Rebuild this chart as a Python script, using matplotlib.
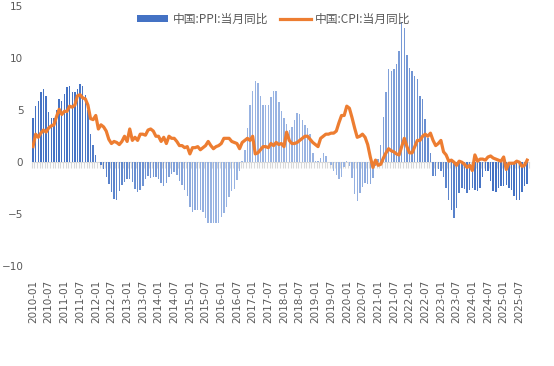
import matplotlib.pyplot as plt
import matplotlib.colors as mcolors
import numpy as np
import pandas as pd

plt.rcParams['font.family'] = ['Noto Sans CJK SC', 'DejaVu Sans']

# 中国 PPI / CPI 当月同比 (%), 2010-01 ~ 2025-10
ppi = [4.3, 5.4, 5.9, 6.8, 7.1, 6.4, 4.8, 4.3, 4.3, 5.0, 6.1, 5.9,
       6.6, 7.2, 7.3, 6.8, 6.8, 7.1, 7.5, 7.3, 6.5, 5.0, 2.7, 1.7,
       0.7, 0.0, -0.3, -0.7, -1.4, -2.1, -2.9, -3.5, -3.6, -2.8, -2.2, -1.9,
       -1.6, -1.6, -1.9, -2.6, -2.9, -2.7, -2.3, -1.6, -1.3, -1.5, -1.4, -1.4,
       -1.6, -2.0, -2.3, -2.0, -1.4, -1.1, -0.9, -1.2, -1.8, -2.2, -2.7, -3.3,
       -4.3, -4.8, -4.6, -4.6, -4.6, -4.8, -5.4, -5.9, -5.9, -5.9, -5.9, -5.9,
       -5.3, -4.9, -4.3, -3.4, -2.8, -2.6, -1.7, -0.8, 0.1, 1.2, 3.3, 5.5,
       6.9, 7.8, 7.6, 6.4, 5.5, 5.5, 5.5, 6.3, 6.9, 6.9, 5.8, 4.9,
       4.3, 3.7, 3.1, 3.4, 4.1, 4.7, 4.6, 4.1, 3.6, 3.3, 2.7, 0.9,
       0.1, 0.1, 0.4, 0.9, 0.6, 0.0, -0.3, -0.8, -1.2, -1.6, -1.4, -0.5,
       0.1, -0.4, -1.5, -3.1, -3.7, -3.0, -2.4, -2.0, -2.1, -2.1, -1.5, -0.4,
       0.3, 1.7, 4.4, 6.8, 9.0, 8.8, 9.0, 9.5, 10.7, 13.5, 12.9, 10.3,
       9.1, 8.8, 8.3, 8.0, 6.4, 6.1, 4.2, 2.3, 0.9, -1.3, -1.3, -0.7,
       -0.8, -1.4, -2.5, -3.6, -4.6, -5.4, -4.4, -3.0, -2.5, -2.6, -3.0, -2.7,
       -2.5, -2.7, -2.8, -2.5, -1.4, -0.8, -0.8, -1.8, -2.8, -2.9, -2.5, -2.3,
       -2.3, -2.2, -2.5, -2.7, -3.3, -3.6, -3.6, -2.9, -2.3, -2.1]
cpi = [1.5, 2.7, 2.4, 2.8, 3.1, 2.9, 3.3, 3.5, 3.6, 4.4, 5.1, 4.6,
       4.9, 4.9, 5.4, 5.3, 5.5, 6.4, 6.5, 6.2, 6.1, 5.5, 4.2, 4.1,
       4.5, 3.2, 3.6, 3.4, 3.0, 2.2, 1.8, 2.0, 1.9, 1.7, 2.0, 2.5,
       2.0, 3.2, 2.1, 2.4, 2.1, 2.7, 2.7, 2.6, 3.1, 3.2, 3.0, 2.5,
       2.5, 2.0, 2.4, 1.8, 2.5, 2.3, 2.3, 2.0, 1.6, 1.6, 1.4, 1.5,
       0.8, 1.4, 1.4, 1.5, 1.2, 1.4, 1.6, 2.0, 1.6, 1.3, 1.5, 1.6,
       1.8, 2.3, 2.3, 2.3, 2.0, 1.9, 1.8, 1.3, 1.9, 2.1, 2.3, 2.1,
       2.5, 0.8, 0.9, 1.2, 1.5, 1.5, 1.4, 1.8, 1.6, 1.9, 1.7, 1.8,
       1.5, 2.9, 2.1, 1.8, 1.8, 1.9, 2.1, 2.3, 2.5, 2.5, 2.2, 1.9,
       1.7, 1.5, 2.3, 2.5, 2.7, 2.7, 2.8, 2.8, 3.0, 3.8, 4.5, 4.5,
       5.4, 5.2, 4.3, 3.3, 2.4, 2.5, 2.7, 2.4, 1.7, 0.5, -0.5, 0.2,
       -0.3, -0.2, 0.4, 0.9, 1.3, 1.1, 1.0, 0.8, 0.7, 1.5, 2.3, 1.5,
       0.9, 0.9, 1.5, 2.1, 2.1, 2.5, 2.7, 2.5, 2.8, 2.1, 1.6, 1.8,
       2.1, 1.0, 0.7, 0.1, 0.2, 0.0, -0.3, 0.1, 0.0, -0.2, -0.5, -0.3,
       -0.8, 0.7, 0.1, 0.3, 0.3, 0.2, 0.5, 0.6, 0.4, 0.3, 0.2, 0.1,
       0.5, -0.7, -0.1, -0.1, -0.1, 0.1, 0.0, -0.4, -0.3, 0.2]
months = pd.date_range('2010-01', periods=len(ppi), freq='MS').strftime('%Y-%m')

x = np.arange(len(ppi))

fig = plt.figure(figsize=(5.54, 3.66), dpi=100)
ax = fig.add_axes([31.7/554, 1-266/366, (528.5-31.7)/554, (266-6.5)/366])

# 柱子颜色: 两端深蓝, 中间浅蓝 (模拟渐变填充)
dark = np.array(mcolors.to_rgb('#4472C4'))
light = np.array(mcolors.to_rgb('#98B3E2'))
t = 1 - np.abs(x / (len(x) - 1) * 2 - 1)
t = np.clip(t * 1.8 - 0.3, 0, 1)
bar_colors = [tuple(dark + (light - dark) * v) for v in t]

bars = ax.bar(x, ppi, width=0.55, color=bar_colors, label='中国:PPI:当月同比', zorder=2)
line, = ax.plot(x, cpi, color='#ED7D31', lw=2.3, label='中国:CPI:当月同比', zorder=3)

ax.set_xlim(-0.5, len(x) - 0.5)
ax.set_ylim(-10, 15)
ax.set_yticks([-10, -5, 0, 5, 10, 15])

for s in ['top', 'right', 'left']:
    ax.spines[s].set_visible(False)
ax.spines['bottom'].set_position(('data', 0))
ax.spines['bottom'].set_color('#D9D9D9')
ax.spines['bottom'].set_zorder(1)
ax.set_xticks(np.arange(-0.5, len(x), 1))
ax.tick_params(axis='x', length=4, width=0.8, color='#D9D9D9', labelbottom=False)
ax.tick_params(axis='y', length=0, pad=6, labelsize=7.5, labelcolor='#595959')
for lab in ax.get_yticklabels():
    lab.set_family('DejaVu Sans')

sec = ax.secondary_xaxis(0)
sec.spines['bottom'].set_visible(False)
sec.set_xticks(x[::6])
sec.set_xticklabels(months[::6], rotation=90, family='DejaVu Sans')
sec.tick_params(length=0, pad=10, labelsize=7.5, labelcolor='#595959')

ax.legend([bars, line], ['中国:PPI:当月同比', '中国:CPI:当月同比'],
          loc='upper center', bbox_to_anchor=(274/554, 1-2/366),
          bbox_transform=fig.transFigure, ncol=2, frameon=False,
          fontsize=8.5, labelcolor='#595959', handlelength=2.6,
          handleheight=0.5, columnspacing=1.0, handletextpad=0.4)

plt.savefig('out.png', dpi=100)
